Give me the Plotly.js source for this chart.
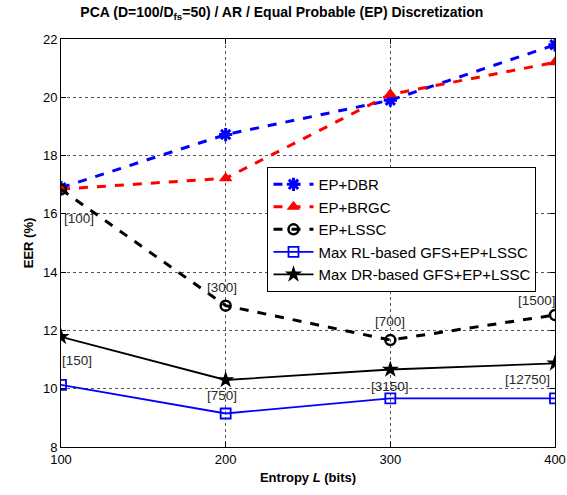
<!DOCTYPE html>
<html><head><meta charset="utf-8">
<script src="https://cdn.plot.ly/plotly-3.0.1.min.js"></script>
<style>body{margin:0;padding:0;background:#fff}#chart{width:567px;height:495px}</style>
</head><body><div id="chart"></div>
<script>
const entropy = [100, 200, 300, 400];
const epDBR = [16.9, 18.72, 19.9, 21.8];
const epBRGC = [16.85, 17.22, 20.1, 21.2];
const epLSSC = [16.84, 12.85, 11.67, 12.53];
const maxRL = [10.13, 9.15, 9.67, 9.67];
const maxDR = [11.78, 10.3, 10.66, 10.87];
const labelsLSSC = ['[100]', '[300]', '[700]', '[1500]'];
const labelsDR = ['[150]', '[750]', '[3150]', '[12750]'];
const yTicks = [8, 10, 12, 14, 16, 18, 20, 22];
const xTicks = [100, 200, 300, 400];

const FONT = 'Liberation Sans, Arial, sans-serif';

const traces = [
  {x: entropy, y: epDBR, name: 'EP+DBR', mode: 'lines+markers',
   line: {color: '#0000ff', width: 3, dash: 'dash'},
   marker: {symbol: 'asterisk-open', size: 11, color: '#0000ff', line: {color: '#0000ff', width: 3}}},
  {x: entropy, y: epBRGC, name: 'EP+BRGC', mode: 'lines+markers',
   line: {color: '#ff0000', width: 3, dash: 'dash'},
   marker: {symbol: 'triangle-up', size: 12, color: '#ff0000'}},
  {x: entropy, y: epLSSC, name: 'EP+LSSC', mode: 'lines+markers',
   line: {color: '#000000', width: 3, dash: 'dash'},
   marker: {symbol: 'circle-open', size: 10, color: '#000000', line: {color: '#000000', width: 2.5}}},
  {x: entropy, y: maxRL, name: 'Max RL-based GFS+EP+LSSC', mode: 'lines+markers',
   line: {color: '#0000ff', width: 1.8},
   marker: {symbol: 'square-open', size: 10, color: '#0000ff', line: {color: '#0000ff', width: 1.8}}},
  {x: entropy, y: maxDR, name: 'Max DR-based GFS+EP+LSSC', mode: 'lines+markers',
   line: {color: '#000000', width: 1.8},
   marker: {symbol: 'star', size: 13, color: '#000000'}}
];

// label offsets (in data units) relative to each point
const offLSSC = [[11, -1.0], [-2, 0.62], [0, 0.64], [-11, 0.5]];
const offDR = [[10, -0.8], [-2, -0.52], [0, -0.6], [-17, -0.57]];
const annotations = [];
const annFont = {family: FONT, size: 13.5, color: '#2a2a2a'};
labelsLSSC.forEach((t, i) => annotations.push({x: entropy[i] + offLSSC[i][0], y: epLSSC[i] + offLSSC[i][1], text: t, showarrow: false, xanchor: 'center', yanchor: 'middle', font: annFont}));
labelsDR.forEach((t, i) => annotations.push({x: entropy[i] + offDR[i][0], y: maxDR[i] + offDR[i][1], text: t, showarrow: false, xanchor: 'center', yanchor: 'middle', font: annFont}));

const axisCommon = {
  showline: true, mirror: 'ticks', linecolor: '#000', linewidth: 1,
  ticks: 'inside', ticklen: 5, tickcolor: '#000',
  showgrid: true, gridcolor: '#555', griddash: 'dot', gridwidth: 1,
  zeroline: false,
  tickfont: {family: FONT, size: 13, color: '#000'}
};

const layout = {
  width: 567, height: 495,
  margin: {l: 61, r: 12, t: 39, b: 48},
  paper_bgcolor: '#fff', plot_bgcolor: '#fff',
  title: {text: '<b>PCA (D=100/D<sub>fs</sub>=50) / AR / Equal Probable (EP) Discretization</b>',
          x: 0.497, xanchor: 'center', xref: 'container', y: 0.985, yanchor: 'top',
          font: {family: FONT, size: 14, color: '#000'}},
  xaxis: Object.assign({}, axisCommon, {range: [100, 400], tickvals: xTicks,
    title: {text: '<b>Entropy <i>L</i> (bits)</b>', standoff: 7, font: {family: FONT, size: 13, color: '#000'}}}),
  yaxis: Object.assign({}, axisCommon, {range: [8, 22], tickvals: yTicks,
    title: {text: '<b>EER (%)</b>', standoff: 6, font: {family: FONT, size: 13, color: '#000'}}}),
  legend: {x: 0.418, y: 0.686, xanchor: 'left', yanchor: 'top',
    bgcolor: '#fff', bordercolor: '#000', borderwidth: 1,
    font: {family: FONT, size: 15, color: '#000'},
    tracegroupgap: 0, itemwidth: 40},
  annotations: annotations,
  showlegend: true
};

Plotly.newPlot('chart', traces, layout, {displayModeBar: false, staticPlot: true});
</script></body></html>
